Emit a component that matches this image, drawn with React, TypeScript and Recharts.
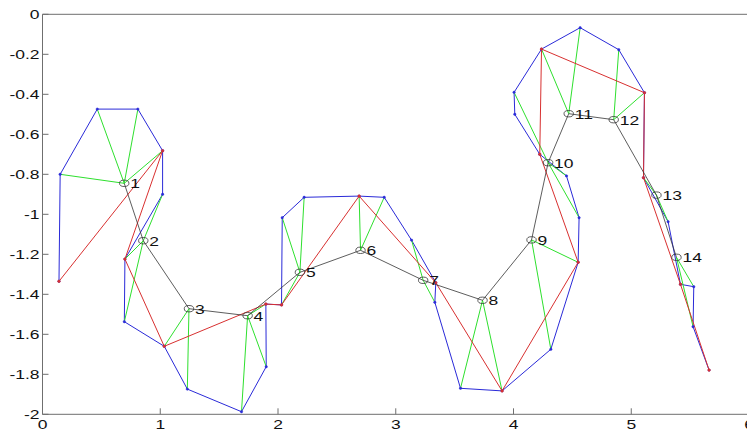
import { LineChart, Line, XAxis, YAxis } from 'recharts';

// skeleton points, numbered 1..14
const centers: [number, number][] = [
  [0.694, -0.845], [0.856, -1.132], [1.244, -1.472], [1.742, -1.507],
  [2.186, -1.29], [2.701, -1.18], [3.233, -1.33], [3.737, -1.43],
  [4.153, -1.128], [4.294, -0.742], [4.469, -0.497], [4.851, -0.527],
  [5.214, -0.904], [5.384, -1.215],
];

// blue contour, in drawing order
const outline: [number, number][] = [
  [0.14, -1.335], [0.15, -0.8], [0.465, -0.474], [0.81, -0.474], [1.02, -0.682],
  [1.02, -0.9], [0.7, -1.224], [0.695, -1.537], [1.034, -1.66], [1.23, -1.874],
  [1.69, -1.987], [1.9, -1.762], [1.897, -1.449], [2.03, -1.453], [2.036, -1.017],
  [2.222, -0.915], [2.689, -0.909], [2.902, -0.915], [3.134, -1.129], [3.34, -1.342],
  [3.332, -1.44], [3.55, -1.87], [3.903, -1.883], [4.317, -1.675], [4.549, -1.24],
  [4.557, -1.017], [4.45, -0.808], [4.223, -0.7], [4.011, -0.5], [4.005, -0.39],
  [4.238, -0.174], [4.566, -0.067], [4.894, -0.177], [5.112, -0.392], [5.104, -0.817],
  [5.313, -1.037], [5.418, -1.35], [5.531, -1.362], [5.525, -1.562], [5.661, -1.779],
];

// red polygon through the corner points
const ridge: [number, number][] = [
  [0.14, -1.335], [1.02, -0.682], [0.7, -1.224], [1.034, -1.66], [1.897, -1.449],
  [2.03, -1.453], [2.689, -0.909], [3.34, -1.342], [3.903, -1.883], [4.549, -1.24],
  [4.223, -0.7], [4.238, -0.174], [5.112, -0.392], [5.104, -0.817], [5.418, -1.35],
  [5.661, -1.779],
];

// green spokes: [center no, x, y]
const spokes: [number, number, number][] = [
  [1, 0.15, -0.8], [1, 0.465, -0.474], [1, 0.81, -0.474], [1, 1.02, -0.682],
  [2, 1.02, -0.9], [2, 0.7, -1.224], [2, 0.695, -1.537],
  [3, 1.034, -1.66], [3, 1.23, -1.874],
  [4, 1.69, -1.987], [4, 1.9, -1.762], [4, 1.897, -1.449],
  [5, 2.036, -1.017], [5, 2.222, -0.915], [5, 2.03, -1.453],
  [6, 2.689, -0.909], [6, 2.902, -0.915],
  [7, 3.134, -1.129], [7, 3.332, -1.44],
  [8, 3.55, -1.87], [8, 3.903, -1.883],
  [9, 4.317, -1.675], [9, 4.549, -1.24],
  [10, 4.005, -0.39], [10, 4.557, -1.017], [10, 4.45, -0.808],
  [11, 4.238, -0.174], [11, 4.566, -0.067],
  [12, 4.894, -0.177], [12, 5.112, -0.392],
  [13, 5.104, -0.817], [13, 5.313, -1.037],
  [14, 5.531, -1.362], [14, 5.525, -1.562],
];

const xTicks = [0, 1, 2, 3, 4, 5, 6];
const yTicks = [0, -0.2, -0.4, -0.6, -0.8, -1, -1.2, -1.4, -1.6, -1.8, -2];

const BLUE = '#2a2ad8';
const RED = '#d83030';
const GREEN = '#2ee02e';
const BLACK = '#333333';
const AXIS = '#6f6f6f';
const FONT = '"Liberation Sans", Arial, sans-serif';

const toPts = (arr: [number, number][]) => arr.map(([x, y]) => ({ x, y }));

const outlineData = toPts(outline);
const ridgeData = toPts(ridge);
const centerData = toPts(centers);
// each spoke is its own segment, split by a null point
const spokeData = spokes.flatMap(([c, x, y]) => {
  const [cx, cy] = centers[c - 1];
  return [{ x: cx, y: cy }, { x, y }, { x, y: null }];
});

function StretchText({ x, y, anchor, children }: any) {
  return (
    <text
      transform={`translate(${x},${y}) scale(1.4,1)`}
      textAnchor={anchor}
      fontFamily={FONT}
      fontSize={12.5}
      fill="#111"
    >
      {children}
    </text>
  );
}

const BottomTick = ({ x, y, payload }: any) => (
  <g>
    <line x1={x} x2={x} y1={y} y2={y - 6} stroke={AXIS} />
    <StretchText x={x} y={y + 14.5} anchor="middle">{payload.value}</StretchText>
  </g>
);

const TopTick = ({ x, y }: any) => <line x1={x} x2={x} y1={y} y2={y + 6} stroke={AXIS} />;

const LeftTick = ({ x, y, payload }: any) => (
  <g>
    <line x1={x} x2={x + 6} y1={y} y2={y} stroke={AXIS} />
    <StretchText x={x - 3} y={y + 4.3} anchor="end">{String(payload.value)}</StretchText>
  </g>
);

const RightTick = ({ x, y }: any) => <line x1={x} x2={x - 6} y1={y} y2={y} stroke={AXIS} />;

const CenterMark = (props: any) => {
  const { cx, cy, index } = props;
  return (
    <g key={`c-${index}`}>
      <ellipse cx={cx} cy={cy} rx={4.7} ry={3.2} fill="none" stroke={BLACK} strokeWidth={0.8} />
      <StretchText x={cx + 6} y={cy + 5} anchor="start">{index + 1}</StretchText>
    </g>
  );
};

export default function App() {
  return (
    <div style={{ position: 'absolute', left: 0, top: 0, width: 747, height: 431, overflow: 'hidden', background: '#fff' }}>
      <LineChart width={760} height={431} margin={{ top: 0, right: 0, bottom: 0, left: 0 }}>
        <XAxis
          xAxisId="b"
          dataKey="x"
          type="number"
          domain={[0, 6]}
          ticks={xTicks}
          height={16.7}
          tickSize={0}
          tickMargin={0}
          tickLine={false}
          axisLine={{ stroke: AXIS }}
          tick={<BottomTick />}
        />
        <XAxis
          xAxisId="t"
          orientation="top"
          type="number"
          domain={[0, 6]}
          ticks={xTicks}
          height={14.3}
          tickSize={0}
          tickMargin={0}
          tickLine={false}
          axisLine={{ stroke: AXIS }}
          tick={<TopTick />}
        />
        <YAxis
          yAxisId="l"
          type="number"
          domain={[-2, 0]}
          ticks={yTicks}
          width={42.5}
          tickSize={0}
          tickMargin={0}
          tickLine={false}
          axisLine={{ stroke: AXIS }}
          tick={<LeftTick />}
        />
        <YAxis
          yAxisId="r"
          orientation="right"
          type="number"
          domain={[-2, 0]}
          ticks={yTicks}
          width={11}
          tickSize={0}
          tickMargin={0}
          tickLine={false}
          axisLine={{ stroke: AXIS }}
          tick={<RightTick />}
        />
        <Line
          xAxisId="b"
          yAxisId="l"
          data={outlineData}
          dataKey="y"
          type="linear"
          stroke={BLUE}
          strokeWidth={1}
          dot={{ r: 1.2, fill: BLUE, stroke: BLUE, strokeWidth: 0.5 }}
          isAnimationActive={false}
        />
        <Line
          xAxisId="b"
          yAxisId="l"
          data={spokeData}
          dataKey="y"
          type="linear"
          stroke={GREEN}
          strokeWidth={1}
          dot={false}
          connectNulls={false}
          isAnimationActive={false}
        />
        <Line
          xAxisId="b"
          yAxisId="l"
          data={ridgeData}
          dataKey="y"
          type="linear"
          stroke={RED}
          strokeWidth={1}
          dot={{ r: 1.3, fill: RED, stroke: RED, strokeWidth: 0.5 }}
          isAnimationActive={false}
        />
        <Line
          xAxisId="b"
          yAxisId="l"
          data={centerData}
          dataKey="y"
          type="linear"
          stroke={BLACK}
          strokeWidth={0.8}
          dot={<CenterMark />}
          isAnimationActive={false}
        />
      </LineChart>
    </div>
  );
}
